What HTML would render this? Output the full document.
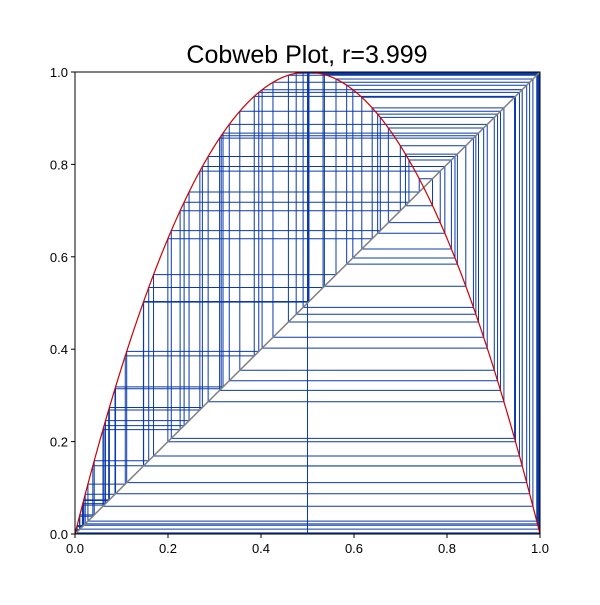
<!DOCTYPE html>
<html><head><meta charset="utf-8"><style>
body{margin:0;background:#fff;font-family:"Liberation Sans",sans-serif}
svg text{font-family:"Liberation Sans",sans-serif}
</style></head><body>
<svg id="chart" width="600" height="600">
<rect width="600" height="600" fill="#fff"/>
<text x="307" y="63" text-anchor="middle" font-size="25">Cobweb Plot, r=3.999</text>
<g id="web"></g>
<g id="curves"></g>
<rect x="75" y="72" width="465" height="462" fill="none" stroke="#000" stroke-width="1"/>
<g id="axes"></g>
</svg>
<script>
const rValues=[3.999];
const startValues=[0.5];
const iterationCounts=[100];
const xTicks=[0,0.2,0.4,0.6,0.8,1.0];
const yTicks=[0,0.2,0.4,0.6,0.8,1.0];
const tickLabels=["0.0","0.2","0.4","0.6","0.8","1.0"];

const X0=75,X1=540,Y0=534,Y1=72;
const sx=v=>X0+v*(X1-X0), sy=v=>Y0-v*(Y0-Y1);
const NS="http://www.w3.org/2000/svg";
const r=rValues[0];
const f=x=>r*x*(1-x);

let x=startValues[0];
let d="M"+sx(x)+","+sy(0);
for(let i=0;i<iterationCounts[0];i++){
  const y=f(x);
  d+=" L"+sx(x)+","+sy(y)+" L"+sx(y)+","+sy(y);
  x=y;
}
const web=document.createElementNS(NS,"path");
web.setAttribute("d",d);
web.setAttribute("fill","none");
web.setAttribute("stroke","#0b3aa8");
web.setAttribute("stroke-width","1");


document.getElementById("web").appendChild(web);

const curves=document.getElementById("curves");
const diag=document.createElementNS(NS,"line");
diag.setAttribute("x1",sx(0));diag.setAttribute("y1",sy(0));
diag.setAttribute("x2",sx(1));diag.setAttribute("y2",sy(1));
diag.setAttribute("stroke","#808080");diag.setAttribute("stroke-width","1.5");


curves.appendChild(diag);

let pd="";
for(let i=0;i<=400;i++){const t=i/400;pd+=(i?" L":"M")+sx(t)+","+sy(f(t));}
const par=document.createElementNS(NS,"path");
par.setAttribute("d",pd);par.setAttribute("fill","none");
par.setAttribute("stroke","#cc0000");par.setAttribute("stroke-width","1.2");


curves.appendChild(par);

const axes=document.getElementById("axes");
xTicks.forEach((v,i)=>{
  const l=document.createElementNS(NS,"line");
  l.setAttribute("x1",sx(v));l.setAttribute("x2",sx(v));
  l.setAttribute("y1",Y0);l.setAttribute("y2",Y0+4);l.setAttribute("stroke","#000");
  
  
  axes.appendChild(l);
  const t=document.createElementNS(NS,"text");
  t.setAttribute("x",sx(v));t.setAttribute("y",Y0+19);
  t.setAttribute("text-anchor","middle");t.setAttribute("font-size","13");
  t.textContent=tickLabels[i];
  
  
  axes.appendChild(t);
});
yTicks.forEach((v,i)=>{
  const l=document.createElementNS(NS,"line");
  l.setAttribute("x1",X0-4);l.setAttribute("x2",X0);
  l.setAttribute("y1",sy(v));l.setAttribute("y2",sy(v));l.setAttribute("stroke","#000");
  
  
  axes.appendChild(l);
  const t=document.createElementNS(NS,"text");
  t.setAttribute("x",X0-7);t.setAttribute("y",sy(v)+5);
  t.setAttribute("text-anchor","end");t.setAttribute("font-size","13");
  t.textContent=tickLabels[i];
  
  
  axes.appendChild(t);
});
</script>
</body></html>
